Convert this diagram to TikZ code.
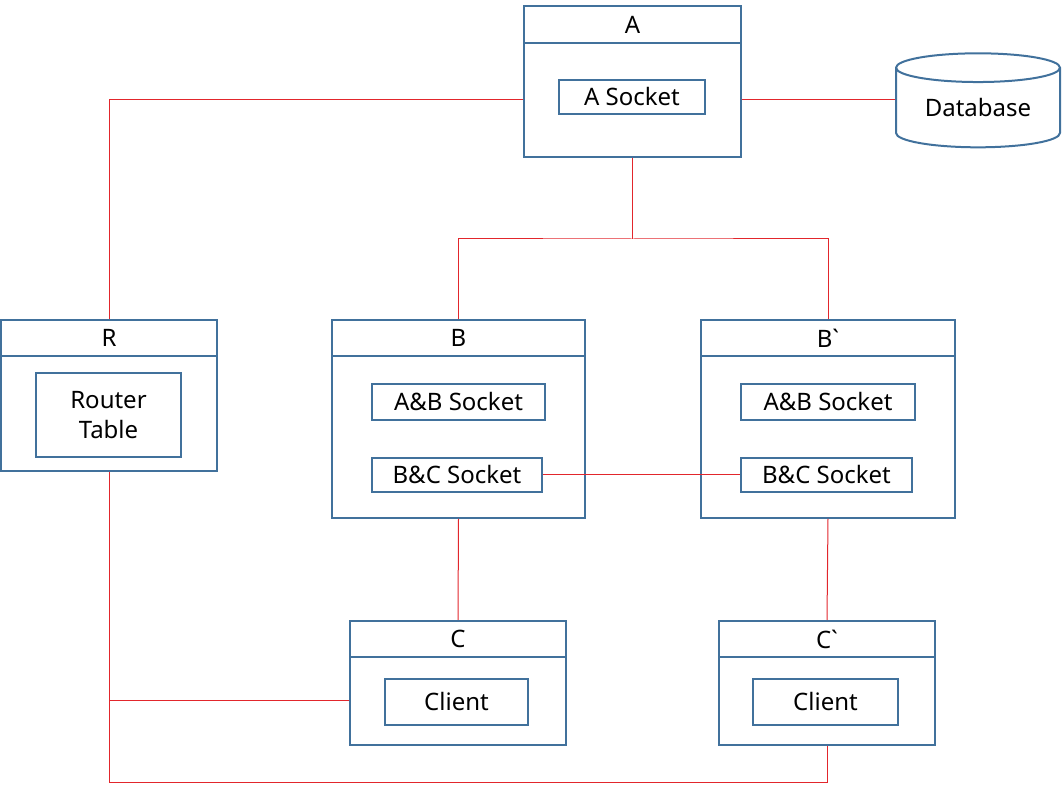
\documentclass[tikz,border=0pt]{standalone}
\usepackage{fontspec}
\setmainfont{Noto Sans}
\usetikzlibrary{fit,shapes.geometric}
\definecolor{BoxBlue}{RGB}{65,113,156}
\definecolor{LinkRed}{RGB}{226,38,44}

\begin{document}
\begin{tikzpicture}[x=0.5pt,y=-0.5pt,
    font=\fontsize{12}{15}\selectfont,
    unit/.style={draw=BoxBlue,line width=1pt,inner sep=0pt},
    part/.style={draw=BoxBlue,line width=1pt,inner sep=0pt},
    tag/.style={label={[align=center]center:#1}},
    link/.style={draw=LinkRed,line width=0.5pt}]
            \useasboundingbox (0,0) rectangle (1062,785);

            % server A and the database
            \node[unit,fit={(524,6) (741,43)},tag=A] (A-head) {};
            \node[unit,fit={(524,43) (741,157)}] (A) {};
            \node[part,fit={(559,80) (705,114)},tag=A Socket] (Asock) {};
            \node[cylinder,shape border rotate=90,aspect=0.27,draw=BoxBlue,line width=1pt,
                  minimum width=82pt,minimum height=47pt,inner sep=0pt] (db) at (978,108) {Database};

            % router
            \node[unit,fit={(1,320) (217,356)},tag=R] (R-head) {};
            \node[unit,fit={(1,356) (217,471)}] (R) {};
            \node[part,fit={(36,373) (181,457)},tag={Router\\Table}] (table) {};

            % B and B`
            \node[unit,fit={(332,320) (585,356)},tag=B] (B-head) {};
            \node[unit,fit={(332,356) (585,518)}] (B) {};
            \node[part,fit={(372,384) (545,420)},tag=A\&B Socket] (B-ab) {};
            \node[part,fit={(372,458) (542,492)},tag=B\&C Socket] (B-bc) {};

            \node[unit,fit={(701,320) (955,356)},tag=B\textasciigrave] (Bp-head) {};
            \node[unit,fit={(701,356) (955,518)}] (Bp) {};
            \node[part,fit={(741,384) (915,420)},tag=A\&B Socket] (Bp-ab) {};
            \node[part,fit={(741,458) (912,492)},tag=B\&C Socket] (Bp-bc) {};

            % clients
            \node[unit,fit={(350,621) (566,657)},tag=C] (C-head) {};
            \node[unit,fit={(350,657) (566,745)}] (C) {};
            \node[part,fit={(385,679) (528,725)},tag=Client] (C-cl) {};

            \node[unit,fit={(719,621) (935,657)},tag=C\textasciigrave] (Cp-head) {};
            \node[unit,fit={(719,657) (935,745)}] (Cp) {};
            \node[part,fit={(753,679) (898,725)},tag=Client] (Cp-cl) {};

            % links
            \coordinate (split) at ([yshift=-40.5pt]A.south);
            \coordinate (bus) at ([yshift=-155.5pt]R.south);

            \draw[link] (A.west) -| (R-head.north);
            \draw[link] (A.east) -- (A.east -| db.west);
            \draw[link] (A.south) -- (split);
            \draw[link] (B-head.north) |- (split) -| (Bp-head.north);
            \draw[link] (B-bc.east) -- (Bp-bc.west);
            \draw[link] (B.south) -- (C-head.north);
            \draw[link] (Bp.south) -- (Cp-head.north);
            \draw[link] (R.south) -- (bus) -| (Cp.south);
            \draw[link] (C.west) -- (C.west -| R.south);
        \end{tikzpicture}
\end{document}
